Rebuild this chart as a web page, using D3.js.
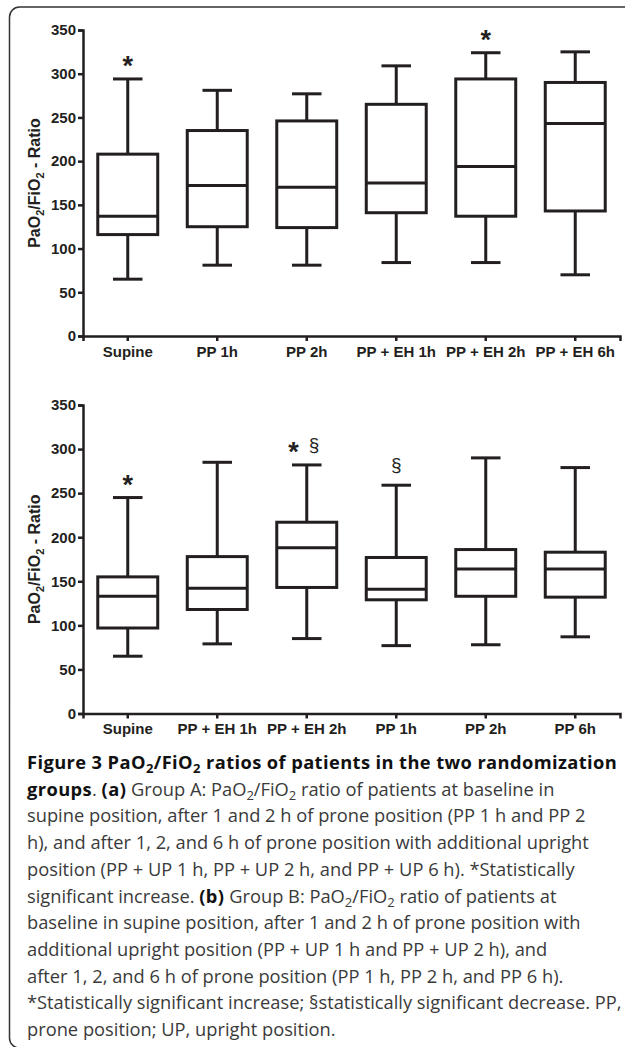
<!DOCTYPE html>
<html>
<head>
<meta charset="utf-8">
<script src="https://cdn.jsdelivr.net/npm/d3@7"></script>
<style>
  body { margin: 0; background: #fff; }
  svg { display: block; }
  .axis path, .axis line { stroke: #231f20; stroke-width: 2.5; }
  .axis text { font-family: "Liberation Sans", Arial, sans-serif; font-weight: bold; font-size: 15px; fill: #231f20; }
  .caption { font-family: "Open Sans", sans-serif; font-size: 18.3px; fill: #3a3a3a; }
</style>
</head>
<body>
<div id="figure"></div>
<script>
// Data
//================================
var yTicks = [0, 50, 100, 150, 200, 250, 300, 350];

// (a) Group A
var catsA = ["Supine", "PP 1h", "PP 2h", "PP + EH 1h", "PP + EH 2h", "PP + EH 6h"];
var minA = [65, 81, 81, 84, 84, 70];
var q1A = [116, 125, 124, 141, 137, 143];
var medA = [137, 172, 170, 175, 194, 243];
var q3A = [208, 235, 246, 265, 294, 290];
var maxA = [294, 281, 277, 309, 324, 325];
var marksA = ["*", "", "", "", "*", ""];

// (b) Group B
var catsB = ["Supine", "PP + EH 1h", "PP + EH 2h", "PP 1h", "PP 2h", "PP 6h"];
var minB = [65, 79, 85, 77, 78, 87];
var q1B = [97, 118, 143, 129, 133, 132];
var medB = [133, 142, 188, 141, 164, 164];
var q3B = [155, 178, 217, 177, 186, 183];
var maxB = [245, 285, 282, 259, 290, 279];
var marksB = ["*", "", "* §", "§", "", ""];

// Step 1: Set up the figure
//================================
var svgWidth = 625;
var svgHeight = 1047;
var ink = "#231f20";

var svg = d3.select("#figure")
  .append("svg")
  .attr("width", svgWidth)
  .attr("height", svgHeight);

// rounded frame (runs off the right and bottom edge)
svg.append("rect")
  .attr("x", 9.5)
  .attr("y", 7)
  .attr("width", 640)
  .attr("height", 1041)
  .attr("rx", 10)
  .attr("fill", "none")
  .attr("stroke", "#333")
  .attr("stroke-width", 1.5);

// Step 2: function that draws one box plot panel
//================================
function drawPanel(cats, mins, q1s, meds, q3s, maxs, marks, top, bottom) {
  var g = svg.append("g");

  var xScale = d3.scaleBand()
    .domain(cats)
    .range([83, 620]);

  var yScale = d3.scaleLinear()
    .domain([0, 350])
    .range([bottom, top]);

  var boxW = xScale.bandwidth() * 0.67;
  var capW = xScale.bandwidth() * 0.33;

  var rows = cats.map(function(c, i) {
    return { cat: c, min: mins[i], q1: q1s[i], med: meds[i], q3: q3s[i], max: maxs[i], mark: marks[i] };
  });

  // axes
  g.append("g")
    .classed("axis", true)
    .attr("transform", `translate(0, ${bottom})`)
    .call(d3.axisBottom(xScale).tickSizeOuter(0).tickSize(5).tickPadding(5));

  g.append("g")
    .classed("axis", true)
    .attr("transform", "translate(83, 0)")
    .call(d3.axisLeft(yScale).tickValues(yTicks).tickSizeOuter(0).tickSize(5).tickPadding(2));

  // y axis title with subscripts
  var title = g.append("text")
    .attr("transform", `translate(40, ${(top + bottom) / 2}) rotate(-90)`)
    .attr("text-anchor", "middle")
    .attr("font-family", "Liberation Sans, Arial, sans-serif")
    .attr("font-weight", "bold")
    .attr("font-size", 16)
    .attr("fill", ink);
  title.append("tspan").text("PaO");
  title.append("tspan").attr("font-size", 11).attr("dy", 4).text("2");
  title.append("tspan").attr("dy", -4).text("/FiO");
  title.append("tspan").attr("font-size", 11).attr("dy", 4).text("2");
  title.append("tspan").attr("dy", -4).text(" - Ratio");

  var boxes = g.selectAll(".box")
    .data(rows)
    .enter()
    .append("g")
    .attr("class", "box")
    .attr("transform", d => `translate(${xScale(d.cat) + xScale.bandwidth() / 2}, 0)`);

  // whiskers
  boxes.append("line")
    .attr("x1", 0).attr("x2", 0)
    .attr("y1", d => yScale(d.max))
    .attr("y2", d => yScale(d.min))
    .attr("stroke", ink)
    .attr("stroke-width", 3);

  // caps
  boxes.selectAll(".cap")
    .data(d => [d.min, d.max])
    .enter()
    .append("line")
    .attr("x1", -capW / 2).attr("x2", capW / 2)
    .attr("y1", v => yScale(v))
    .attr("y2", v => yScale(v))
    .attr("stroke", ink)
    .attr("stroke-width", 3);

  // box
  boxes.append("rect")
    .attr("x", -boxW / 2)
    .attr("width", boxW)
    .attr("y", d => yScale(d.q3))
    .attr("height", d => yScale(d.q1) - yScale(d.q3))
    .attr("fill", "#fff")
    .attr("stroke", ink)
    .attr("stroke-width", 3);

  // median
  boxes.append("line")
    .attr("x1", -boxW / 2).attr("x2", boxW / 2)
    .attr("y1", d => yScale(d.med))
    .attr("y2", d => yScale(d.med))
    .attr("stroke", ink)
    .attr("stroke-width", 3);

  // significance marks (* = increase, § = decrease)
  var markText = boxes.filter(d => d.mark !== "")
    .append("text")
    .attr("text-anchor", "middle")
    .attr("font-family", "Liberation Sans, Arial, sans-serif")
    .attr("fill", ink);

  markText.each(function(d) {
    var t = d3.select(this);
    var cy = yScale(d.max) - 19;
    var parts = d.mark.split(" ");
    var prevBase = null;
    parts.forEach(function(s, i) {
      var base = s === "*" ? cy + 15 : cy + 5;
      var span = t.append("tspan").text(s);
      if (i === 0) {
        span.attr("y", base);
        if (parts.length > 1) span.attr("dx", -3);
      } else {
        span.attr("dy", base - prevBase).attr("dx", 10);
      }
      prevBase = base;
      if (s === "*") {
        span.attr("font-weight", "bold").attr("font-size", 27);
      } else {
        span.attr("font-size", 19);
      }
    });
  });
}

drawPanel(catsA, minA, q1A, medA, q3A, maxA, marksA, 30, 336);
drawPanel(catsB, minB, q1B, medB, q3B, maxB, marksB, 405, 713.5);

// Step 3: caption
//================================
// b = bold, n = normal, bs / ns = subscript
var captionLines = [
  [["b", "Figure 3 PaO"], ["bs", "2"], ["b", "/FiO"], ["bs", "2"], ["b", " ratios of patients in the two randomization"]],
  [["b", "groups"], ["n", ". "], ["b", "(a)"], ["n", " Group A: PaO"], ["ns", "2"], ["n", "/FiO"], ["ns", "2"], ["n", " ratio of patients at baseline in"]],
  [["n", "supine position, after 1 and 2 h of prone position (PP 1 h and PP 2"]],
  [["n", "h), and after 1, 2, and 6 h of prone position with additional upright"]],
  [["n", "position (PP + UP 1 h, PP + UP 2 h, and PP + UP 6 h). *Statistically"]],
  [["n", "significant increase. "], ["b", "(b)"], ["n", " Group B: PaO"], ["ns", "2"], ["n", "/FiO"], ["ns", "2"], ["n", " ratio of patients at"]],
  [["n", "baseline in supine position, after 1 and 2 h of prone position with"]],
  [["n", "additional upright position (PP + UP 1 h and PP + UP 2 h), and"]],
  [["n", "after 1, 2, and 6 h of prone position (PP 1 h, PP 2 h, and PP 6 h)."]],
  [["n", "*Statistically significant increase; §statistically significant decrease. PP,"]],
  [["n", "prone position; UP, upright position."]]
];

captionLines.forEach(function(line, i) {
  var t = svg.append("text")
    .attr("class", "caption")
    .attr("x", 27)
    .attr("y", 769 + i * 26.7);
  var shifted = false;
  line.forEach(function(seg) {
    var span = t.append("tspan").text(seg[1]);
    var isSub = seg[0].length === 2;
    if (seg[0][0] === "b") {
      span.attr("font-weight", "bold")
        .attr("fill", "#111")
        .attr("letter-spacing", 0.4);
    }
    if (isSub) {
      span.attr("font-size", 13).attr("dy", 4);
      shifted = true;
    } else if (shifted) {
      span.attr("dy", -4);
      shifted = false;
    }
  });
});
</script>
</body>
</html>
